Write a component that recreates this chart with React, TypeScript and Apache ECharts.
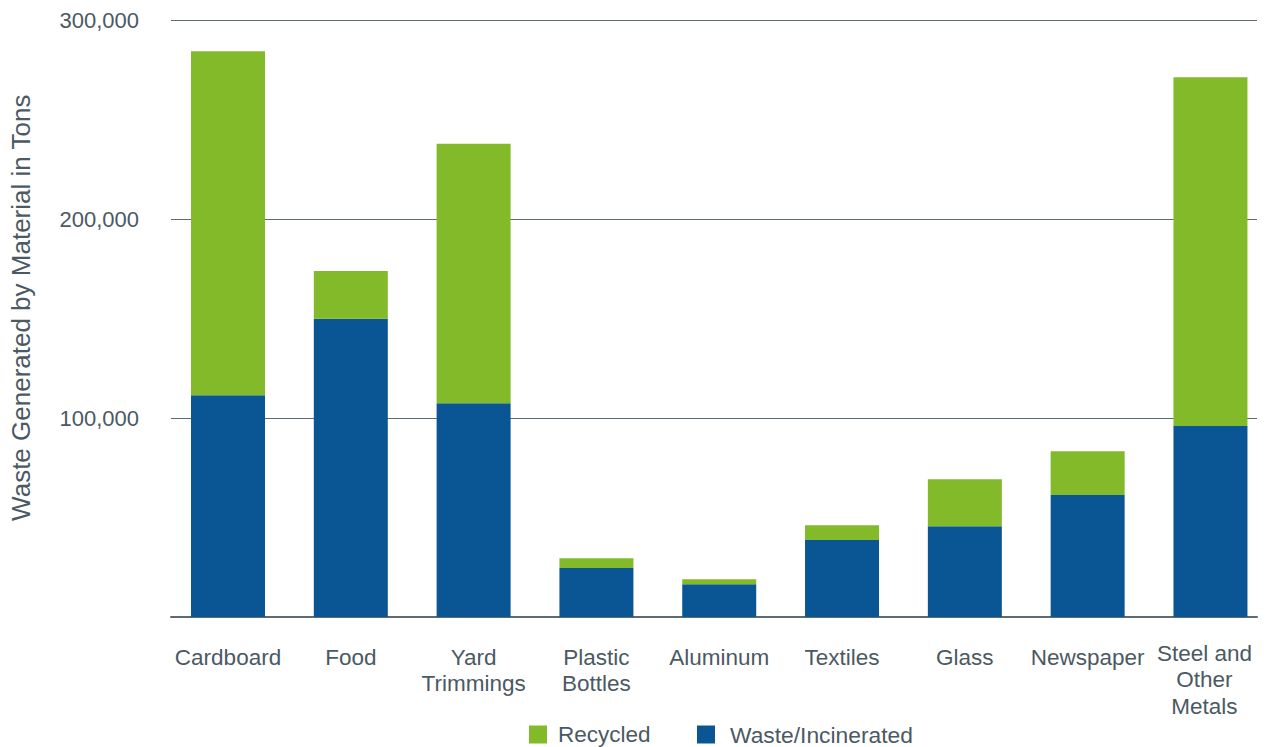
import React, { useEffect, useRef } from "react";
import * as echarts from "echarts";

const categories = ["Cardboard", "Food", "Yard\nTrimmings", "Plastic\nBottles", "Aluminum", "Textiles", "Glass", "Newspaper", "Steel and\nOther\nMetals"];
const wasteIncinerated = [111500, 150000, 107500, 24600, 16500, 38700, 45700, 61300, 96000];
const recycled = [173000, 24000, 130500, 5000, 2500, 7500, 23600, 22100, 175500];
const yTicks = [0, 100000, 200000, 300000];

const TEXT = "#4b5963";
const FONT = "'Liberation Sans', Arial, sans-serif";

export default function App() {
  const ref = useRef<HTMLDivElement>(null);
  useEffect(() => {
    if (!ref.current) return;
    const chart = echarts.init(ref.current, null, { renderer: "svg" });
    const yMin = yTicks[0];
    const yMax = yTicks[yTicks.length - 1];
    const yInt = yTicks[1] - yTicks[0];
    const legendBase = {
      top: 723,
      itemWidth: 18,
      itemHeight: 18,
      padding: 0,
      icon: "rect",
    };
    const lastIdx = categories.length - 1;
    const xData = categories.map((c, i) =>
      i === lastIdx ? { value: c, textStyle: { padding: [-4, 12, 0, 0] } } : c
    );
    chart.setOption({
      animation: false,
      backgroundColor: "#ffffff",
      textStyle: { fontFamily: FONT },
      legend: [
        {
          ...legendBase,
          left: 529,
          data: ["Recycled"],
          textStyle: { color: TEXT, fontSize: 22.5, lineHeight: 18, fontFamily: FONT, padding: [0, 0, 0, 6] },
        },
        {
          ...legendBase,
          left: 697,
          data: ["Waste/Incinerated"],
          textStyle: { color: TEXT, fontSize: 22.8, lineHeight: 18, fontFamily: FONT, padding: [0, 0, 0, 10] },
        },
      ],
      grid: [
        { left: 170, right: 10, top: 20.5, bottom: 130 },
        { left: 228, right: 56, top: 20.5, bottom: 130 },
      ],
      xAxis: [
        {
          type: "category",
          gridIndex: 0,
          data: categories,
          axisLine: { show: true, lineStyle: { color: "#5f6b73", width: 2 } },
          axisTick: { show: false },
          axisLabel: { show: false },
        },
        {
          type: "category",
          gridIndex: 1,
          boundaryGap: false,
          data: xData,
          axisLine: { show: false },
          axisTick: { show: false },
          splitLine: { show: false },
          axisLabel: { interval: 0, color: TEXT, fontSize: 22.5, fontFamily: FONT, lineHeight: 26.5, margin: 27 },
        },
      ],
      yAxis: [
        {
          type: "value",
          gridIndex: 0,
          min: yMin,
          max: yMax,
          interval: yInt,
          name: "Waste Generated by Material in Tons",
          nameLocation: "middle",
          nameGap: 137,
          nameRotate: 90,
          nameTextStyle: { color: TEXT, fontSize: 26, fontFamily: FONT, padding: [0, 0, 0, 22] },
          axisLine: { show: false },
          axisTick: { show: false },
          axisLabel: {
            color: TEXT,
            fontSize: 22,
            fontFamily: FONT,
            margin: 32,
            formatter: (v: number) => (v === 0 ? "" : v.toLocaleString("en-US")),
          },
          splitLine: { show: true, lineStyle: { color: "#5f6b73", width: 1 } },
        },
        {
          type: "value",
          gridIndex: 1,
          min: yMin,
          max: yMax,
          interval: yInt,
          show: false,
          splitLine: { show: false },
        },
      ],
      series: [
        {
          name: "Waste/Incinerated",
          type: "bar",
          stack: "total",
          xAxisIndex: 1,
          yAxisIndex: 1,
          barWidth: 74,
          clip: false,
          itemStyle: { color: "#0a5694" },
          data: wasteIncinerated,
        },
        {
          name: "Recycled",
          type: "bar",
          stack: "total",
          xAxisIndex: 1,
          yAxisIndex: 1,
          barWidth: 74,
          clip: false,
          itemStyle: { color: "#82ba29" },
          data: recycled,
        },
      ],
    });
    return () => chart.dispose();
  }, []);
  return (
    <div
      ref={ref}
      style={{ position: "fixed", left: 0, top: 0, width: 1267, height: 747 }}
    />
  );
}
